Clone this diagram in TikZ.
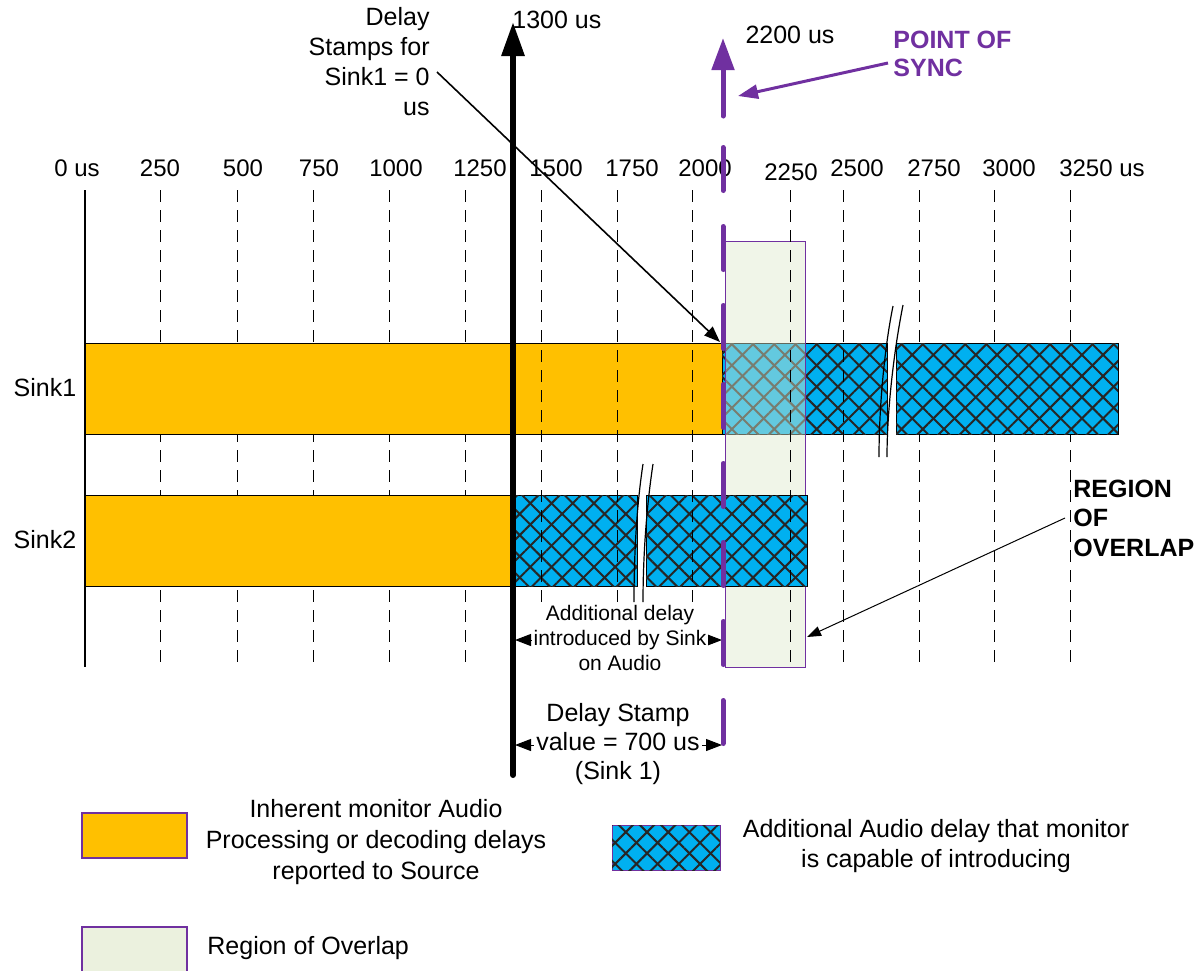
\documentclass[tikz,border=0pt]{standalone}
\usepackage{fontspec}
\setmainfont{Liberation Sans}
\usetikzlibrary{arrows.meta,patterns.meta}

\definecolor{inhOrange}{HTML}{FFC000}
\definecolor{addBlue}{HTML}{00B0F0}
\definecolor{ovlGreen}{HTML}{DDE8CB}
\definecolor{legGreen}{HTML}{EBF1DE}
\definecolor{syncPurple}{HTML}{7030A0}

\tikzset{
  lbl/.style={inner sep=0pt, font=\fontsize{12.5}{15}\selectfont},
  ticklbl/.style={inner sep=0pt, font=\fontsize{12}{14}\selectfont},
  smalllbl/.style={inner sep=1pt, align=center, fill=white, font=\fontsize{10.5}{12.5}\selectfont},
  gridline/.style={dash pattern=on 6pt off 4pt, line width=0.5pt},
  inh/.style={draw=black, line width=0.5pt, fill=inhOrange},
  hatch/.style={draw=black, line width=0.5pt, fill=addBlue,
    postaction={pattern={Lines[angle=45,distance=7.5pt,line width=1pt]}, pattern color=black!85},
    postaction={pattern={Lines[angle=-45,distance=7.5pt,line width=1pt]}, pattern color=black!85}},
  ovl/.style={draw=syncPurple, line width=0.5pt, fill=ovlGreen, fill opacity=0.45},
  brk/.style={line width=0.6pt},
  syncline/.style={draw=syncPurple, line width=2.5pt, line cap=round},
  legbox/.style={draw=syncPurple, line width=0.6pt},
  dimarrow/.style={line width=0.5pt, {Triangle[length=8pt,width=6pt]}-{Triangle[length=8pt,width=6pt]}}
}

\begin{document}
\begin{tikzpicture}[x=0.5pt,y=-0.5pt]
\useasboundingbox (0,0) rectangle (1204,970);

% Time grid
\foreach \gx in {160,237,313,389,465,541,617,692,790,843,919,994,1070}
  \draw[gridline] (\gx,190) -- (\gx,667);
\draw[line width=0.8pt] (85,190) -- (85,667);

% Sink1 bars
\draw[inh] (85,343) rectangle (722,434);
\draw[hatch] (722,343) rectangle (887,434);
\draw[hatch] (896,343) rectangle (1118,434);

% Region of overlap
\draw[ovl] (725,241) rectangle (805,667);

% Sink2 bars
\draw[inh] (85,495) rectangle (515,586);
\draw[hatch] (515,495) rectangle (637,586);
\draw[hatch] (646,495) rectangle (807,586);

% Grid lines seen through the bars
\foreach \gx in {541,617,692,790,843}
  \draw[gridline] (\gx,190) -- (\gx,667);

% Break marks
\draw[brk] (893,306) .. controls (884,350) and (879,410) .. (879,457);
\draw[brk] (903,305) .. controls (894,350) and (887,410) .. (887,457);
\draw[brk] (643,464) .. controls (636,510) and (634,560) .. (634,602);
\draw[brk] (653,464) .. controls (646,510) and (643,560) .. (643,602);

% Time labels
\foreach \xx/\yy/\txt [count=\i] in {77/168/0 us,160/168/250,243/168/500,319/168/750,
    396/168/1000,480/168/1250,556/168/1500,632/168/1750,705/168/2000,791/172/2250,
    857/168/2500,934/168/2750,1009/168/3000,1102/168/3250 us}
  \node[ticklbl] (tick\i) at (\xx,\yy) {\txt};

% Sink labels
\node[lbl] (sink1) at (45,388) {Sink1};
\node[lbl] (sink2) at (45,540) {Sink2};

% Dimension arrows
\coordinate (dimL1) at (515,640);
\coordinate (dimR1) at (722,640);
\coordinate (dimL2) at (515,745);
\coordinate (dimR2) at (722,745);
\draw[dimarrow] (dimL1) -- (dimR1);
\draw[dimarrow] (dimL2) -- (dimR2);
\node[smalllbl] (adddelay) at (620,638) {Additional delay\\introduced by Sink\\on Audio};
\node[smalllbl, font=\fontsize{12.5}{14.5}\selectfont] (stampval) at (618,744) {Delay Stamp\\value = 700 us\\(Sink 1)};

% Delay stamp marker
\draw[line width=3pt, line cap=round, -{Triangle[length=17pt,width=11pt]}] (513,775) -- (513,22);
\node[lbl, anchor=west] (t1300) at (512,20) {1300 us};

% Point of sync
\draw[syncline, dash pattern=on 21.5pt off 18pt] (723,147.5) -- (723,744.5);
\draw[syncline, -{Triangle[length=16pt,width=11pt]}] (723,116) -- (723,38);
\node[lbl] (t2200) at (790,35) {2200 us};
\node[lbl, anchor=west, align=left, text=syncPurple, font=\fontsize{12.5}{14}\selectfont\bfseries] (pos) at (893,54) {POINT OF\\SYNC};
\coordinate (synctip) at (738,96);
\draw[syncPurple, line width=1.5pt, -{Triangle[length=10pt,width=7pt]}] ([shift={(-5,9)}]pos.west) -- (synctip);

% Delay stamps for Sink1
\node[lbl, anchor=east, align=right] (dstamp) at (430,62) {Delay\\Stamps for\\Sink1 = 0\\us};
\coordinate (s1end) at (720,342);
\draw[line width=0.8pt, -{Triangle[length=8pt,width=6pt]}] ([shift={(7,10)}]dstamp.east) -- (s1end);

% Region of overlap label
\node[lbl, anchor=west, align=left, font=\fontsize{12.5}{14.8}\selectfont\bfseries] (ovllbl) at (1073,518) {REGION\\OF\\OVERLAP};
\coordinate (ovltip) at (807,637);
\draw[line width=0.5pt, -{Triangle[length=7pt,width=5pt]}] ([shift={(-8,0)}]ovllbl.west) -- (ovltip);

% Legend
\draw[legbox, fill=inhOrange] (82,813) rectangle (187,858);
\node[lbl, align=center, font=\fontsize{12.5}{15.5}\selectfont] (leginh) at (376,842) {Inherent monitor Audio\\Processing or decoding delays\\reported to Source};
\draw[hatch, draw=syncPurple] (612,825) rectangle (720,870);
\node[lbl, align=center] (legadd) at (936,846) {Additional Audio delay that monitor\\is capable of introducing};
\draw[legbox, fill=legGreen] (82,927) rectangle (187,980);
\node[lbl, anchor=west] (legovl) at (207,948) {Region of Overlap};
\end{tikzpicture}
\end{document}
